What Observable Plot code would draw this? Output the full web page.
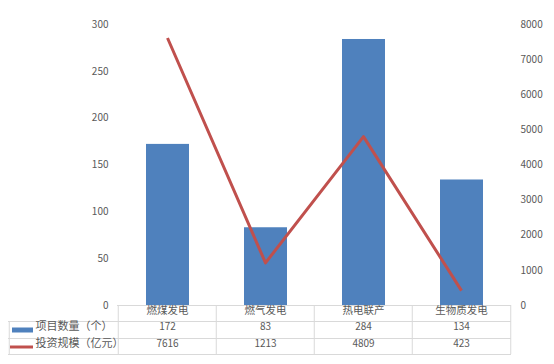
<!DOCTYPE html>
<html><head><meta charset="utf-8">
<script src="https://cdn.jsdelivr.net/npm/d3@7"></script>
<script src="https://cdn.jsdelivr.net/npm/@observablehq/plot@0.6"></script>
<style>
body{margin:0;background:#fff}
svg{font-family:"Noto Sans CJK SC","Noto Sans",sans-serif}
</style>
</head><body><div id="chart"></div>
<script>
const categories = ["燃煤发电","燃气发电","热电联产","生物质发电"];
const projectCounts = [172, 83, 284, 134];
const investments = [7616, 1213, 4809, 423];
const seriesNames = ["项目数量（个）", "投资规模（亿元）"];
const leftTicks = [0, 50, 100, 150, 200, 250, 300];
const rightTicks = [0, 1000, 2000, 3000, 4000, 5000, 6000, 7000, 8000];
const leftMax = 300, rightMax = 8000;
const k = leftMax / rightMax;

const data = categories.map((c, i) => ({category: c, count: projectCounts[i], invest: investments[i]}));

const blue = "#4f81bd", red = "#c0504d", grid = "#d9d9d9", txt = "#595959";
const half = 394 / 4 / 2;

const plot = Plot.plot({
  width: 554, height: 364,
  marginLeft: 117, marginRight: 43, marginTop: 24, marginBottom: 59,
  style: {fontSize: "10px", color: txt, background: "#fff"},
  x: {domain: categories, padding: 0, axis: null},
  y: {domain: [0, leftMax], axis: null},
  marks: [
    Plot.barY(data, {x: "category", y: "count", fill: blue, insetLeft: 28, insetRight: 27}),
    Plot.line(data, {x: "category", y: d => d.invest * k, stroke: red, strokeWidth: 3, strokeLinecap: "butt"}),
    Plot.axisY(leftTicks, {anchor: "left", tickSize: 0, tickPadding: 9, color: txt, fontSize: 10, label: null}),
    Plot.axisY(rightTicks.map(v => v * k), {anchor: "right", tickSize: 0, tickPadding: 9, color: txt, fontSize: 10, label: null,
      tickFormat: d => String(Math.round(d / k))}),
    // table horizontal lines
    Plot.ruleY([0], {stroke: grid}),
    Plot.ruleY([0], {stroke: grid, dy: 16, insetLeft: -109}),
    Plot.ruleY([0], {stroke: grid, dy: 33, insetLeft: -109}),
    Plot.ruleY([0], {stroke: grid, dy: 49, insetLeft: -109}),
    // table vertical lines
    Plot.ruleX(categories, {x: d => d, dx: -half, stroke: grid, insetTop: 281, insetBottom: -49}),
    Plot.ruleX([categories[3]], {x: d => d, dx: half, stroke: grid, insetTop: 281, insetBottom: -49}),
    Plot.ruleX([categories[0]], {x: d => d, dx: -half - 109, stroke: grid, insetTop: 297, insetBottom: -49}),
    // table text
    Plot.text(data, {x: "category", text: "category", frameAnchor: "bottom", dy: 8, fill: txt, fontSize: 10.5}),
    Plot.text(data, {x: "category", text: d => String(d.count), frameAnchor: "bottom", dy: 24.5, fill: txt, fontSize: 10}),
    Plot.text(data, {x: "category", text: d => String(d.invest), frameAnchor: "bottom", dy: 41.5, fill: txt, fontSize: 10}),
    // row headers with legend swatches
    Plot.ruleY([0], {stroke: blue, strokeWidth: 5, dy: 24.5, insetLeft: -105, insetRight: 478}),
    Plot.ruleY([0], {stroke: red, strokeWidth: 3, dy: 41.5, insetLeft: -107, insetRight: 478}),
    Plot.text([seriesNames[0]], {x: () => categories[0], text: d => d, frameAnchor: "bottom", dx: -132, dy: 24.5, textAnchor: "start", fill: txt, fontSize: 11}),
    Plot.text([seriesNames[1]], {x: () => categories[0], text: d => d, frameAnchor: "bottom", dx: -132, dy: 41.5, textAnchor: "start", fill: txt, fontSize: 11})
  ]
});
document.getElementById("chart").appendChild(plot);
</script>
</body></html>
